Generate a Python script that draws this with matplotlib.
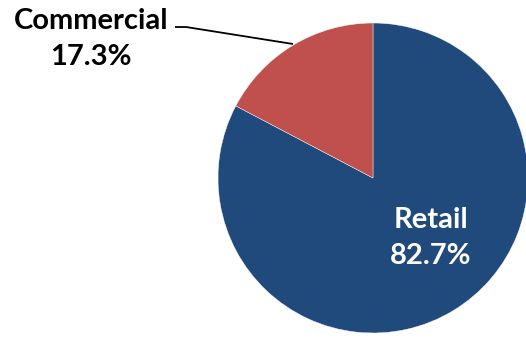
import matplotlib
matplotlib.use("Agg")
import matplotlib.pyplot as plt

categories = ["Retail", "Commercial"]
shares = [82.7, 17.3]
colors = ["#214A7C", "#C0504D"]

W, H = 526, 338
fig = plt.figure(figsize=(W / 100, H / 100), dpi=100)
ax = fig.add_axes([0, 0, 1, 1])

cx, cy, r = 373, H - 178, 155
ax.pie(shares, colors=colors, startangle=90, counterclock=False,
       center=(cx, cy), radius=r, frame=True,
       wedgeprops=dict(edgecolor="white", linewidth=0.3))
ax.set_xlim(0, W)
ax.set_ylim(0, H)
ax.set_aspect("equal")
ax.axis("off")

font = dict(family="Lato", weight="bold", fontsize=21)

# Retail label inside its wedge
ax.text(431, H - 238, f"{categories[0]}\n{shares[0]:.1f}%", color="white",
        ha="center", va="center", linespacing=1.5, **font)

# Commercial label outside with leader line
ax.text(91, H - 39, f"{categories[1]}\n{shares[1]:.1f}%", color="black",
        ha="center", va="center", linespacing=1.5, **font)
ax.plot([175, 186, 293], [H - 27, H - 27, H - 44], color="black", lw=1.3,
        solid_capstyle="butt")

fig.savefig("out.png", dpi=100)
